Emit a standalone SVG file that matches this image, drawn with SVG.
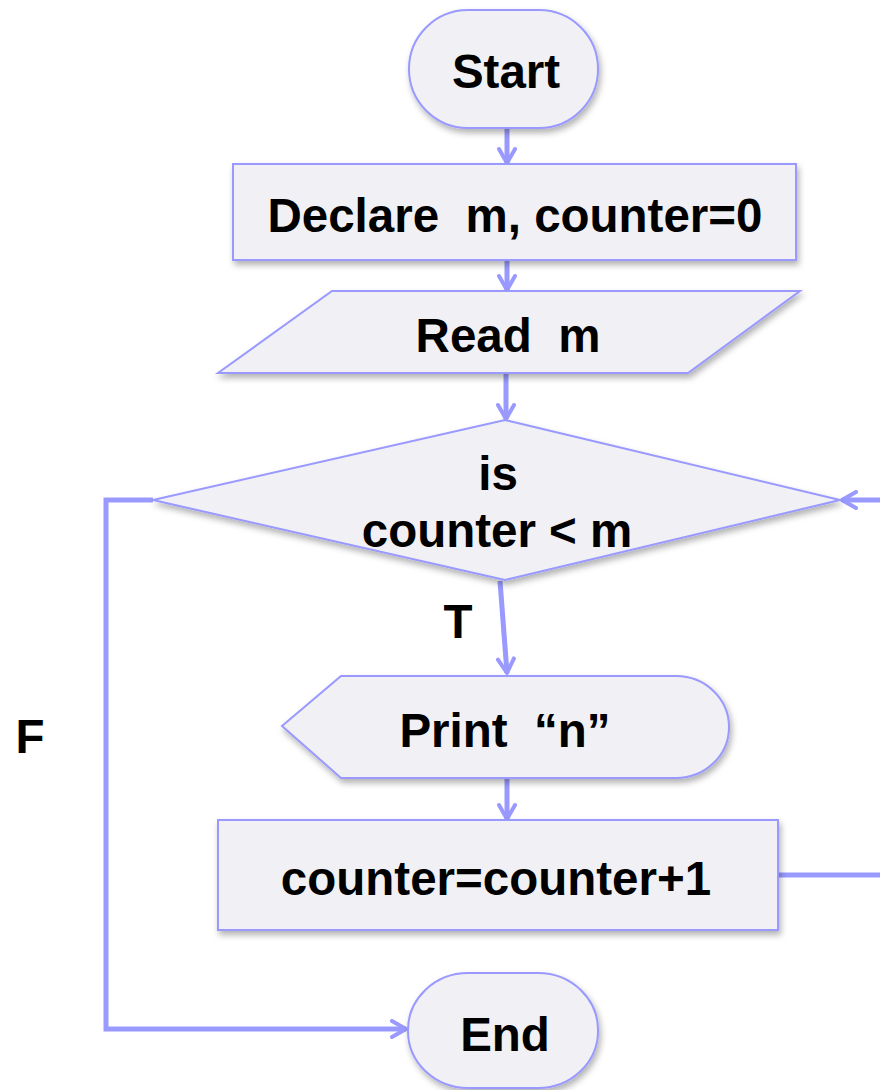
<svg xmlns="http://www.w3.org/2000/svg" width="880" height="1090" viewBox="0 0 880 1090">
  <defs>
    <filter id="shadow" x="-10%" y="-20%" width="130%" height="150%">
      <feDropShadow dx="2" dy="4" stdDeviation="3" flood-color="#000" flood-opacity="0.3"/>
    </filter>
    <marker id="arrow" viewBox="0 0 20 20" refX="18" refY="10" markerWidth="20" markerHeight="20" markerUnits="userSpaceOnUse" orient="auto">
      <path d="M4,2 L18,10 L4,18" fill="none" stroke="#9999ff" stroke-width="4" stroke-linecap="round" stroke-linejoin="round"/>
    </marker>
    <style>
      .shape { fill: #f0f0f5; stroke: #9999ff; stroke-width: 2; filter: url(#shadow); }
      .label { font-family: "Liberation Sans", Arial, sans-serif; font-weight: bold; font-size: 47.5px; fill: #000; text-anchor: middle; white-space: pre; }
      .conn { fill: none; stroke: #9999ff; stroke-width: 5; stroke-linejoin: miter; }
      .arr { marker-end: url(#arrow); }
    </style>
  </defs>
  <rect width="880" height="1090" fill="#ffffff"/>

  <g id="connectors">
    <line class="conn arr" x1="507" y1="129" x2="507" y2="163"/>
    <line class="conn arr" x1="507" y1="261" x2="507" y2="290"/>
    <line class="conn arr" x1="506" y1="374" x2="506" y2="419"/>
    <line class="conn arr" x1="500" y1="581" x2="507" y2="673"/>
    <line class="conn arr" x1="507" y1="779" x2="507" y2="819"/>
    <path class="conn arr" d="M778,875 H884 V500 H842"/>
    <path class="conn arr" d="M153,500 H106 V1029 H406"/>
  </g>

  <g id="start">
    <rect class="shape" x="409" y="10" width="189" height="118" rx="59" ry="59"/>
    <text class="label" x="506" y="88">Start</text>
  </g>

  <g id="declare">
    <rect class="shape" x="233" y="164" width="563" height="96"/>
    <text class="label" x="515" y="232" xml:space="preserve">Declare  m, counter=0</text>
  </g>

  <g id="read">
    <polygon class="shape" points="332,291 800,291 688,373 218,373"/>
    <text class="label" x="508" y="352" xml:space="preserve">Read  m</text>
  </g>

  <g id="decision">
    <polygon class="shape" points="505,420 840,500 505,580 153,500"/>
    <text class="label" x="498" y="490">is</text>
    <text class="label" x="497" y="547">counter &lt; m</text>
  </g>

  <g id="print">
    <path class="shape" d="M282,726 L341,676 H676 A53,51 0 0 1 676,778 H341 Z"/>
    <text class="label" x="505" y="747" xml:space="preserve">Print  “n”</text>
  </g>

  <g id="increment">
    <rect class="shape" x="218" y="820" width="560" height="110"/>
    <text class="label" x="496" y="895">counter=counter+1</text>
  </g>

  <g id="end">
    <rect class="shape" x="408" y="973" width="190" height="115" rx="60" ry="57"/>
    <text class="label" x="505" y="1051">End</text>
  </g>

  <g id="edge-labels">
    <text class="label" x="458" y="638">T</text>
    <text class="label" x="30" y="753">F</text>
  </g>
</svg>
